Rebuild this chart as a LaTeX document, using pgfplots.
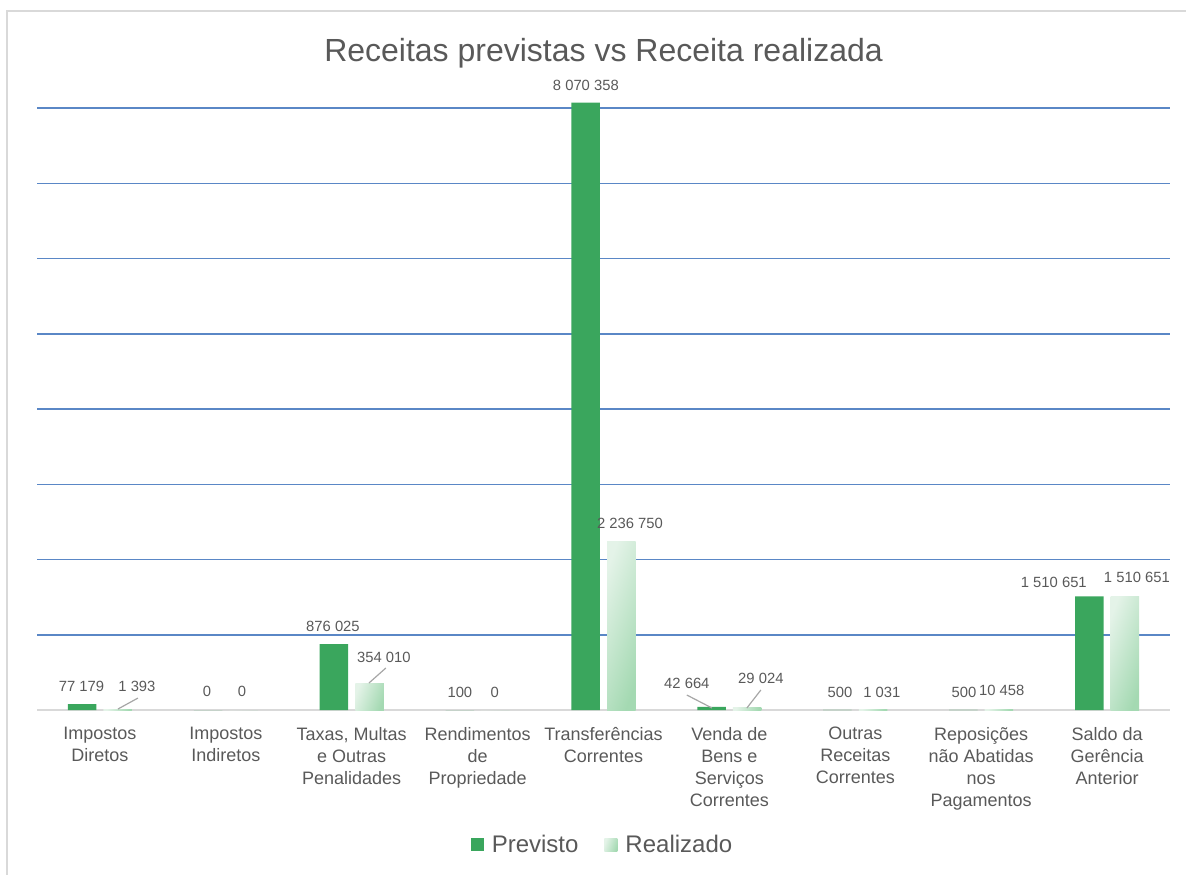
\documentclass[border=0pt]{standalone}
\usepackage{pgfplots}
\usepackage{pgfplotstable}
\pgfplotsset{compat=1.18}
\usepackage{fontspec}
\setmainfont{Liberation Sans}
\definecolor{txt}{HTML}{595959}
\definecolor{prev}{RGB}{58,166,93}
\definecolor{realL}{HTML}{E4F3E8}
\definecolor{realR}{HTML}{A4D9B2}
\definecolor{gridb}{HTML}{5A87C6}
\definecolor{frame}{HTML}{D9D9D9}

\pgfplotstableread[col sep=comma, row sep=\\]{
x,y,lab\\
-0.147,319000,77 179\\
0.294,319000,1 393\\
0.850,252000,0\\
1.128,252000,0\\
1.851,1116000,876 025\\
2.256,704000,354 010\\
2.859,239000,100\\
3.137,239000,0\\
3.860,8306000,8 070 358\\
4.210,2485000,2 236 750\\
4.662,359000,42 664\\
5.250,425000,29 024\\
5.878,239000,500\\
6.211,239000,1 031\\
6.863,239000,500\\
7.164,266000,10 458\\
7.577,1701000,1 510 651\\
8.237,1767000,1 510 651\\
}\labels

\begin{document}
\begin{tikzpicture}
\useasboundingbox (0,0) rectangle (593pt,437pt);
\draw[frame, line width=1pt] (3.5pt,-2pt) -- (3.5pt,431.5pt) -- (600pt,431.5pt);
\begin{axis}[
  at={(18.5pt,82pt)}, anchor=south west,
  scale only axis, width=566.5pt, height=301pt,
  xmin=-0.5, xmax=8.5, ymin=0, ymax=8000000,
  enlargelimits=false, clip=false,
  axis line style={draw=none},
  major tick length=0pt,
  scaled y ticks=false,
  ytick={1000000,2000000,3000000,4000000,5000000,6000000,7000000,8000000},
  yticklabels={},
  ymajorgrids,
  major grid style={gridb, line width=0.75pt},
  extra y ticks={0}, extra y tick labels={},
  extra y tick style={major grid style={frame, line width=1pt}},
  xtick={0,1,2,3,4,5,6,7,8},
  xticklabels={{Impostos\\Diretos},{Impostos\\Indiretos},{Taxas, Multas\\e Outras\\Penalidades},{Rendimentos\\de\\Propriedade},{Transferências\\Correntes},{Venda de\\Bens e\\Serviços\\Correntes},{Outras\\Receitas\\Correntes},{Reposições\\não Abatidas\\nos\\Pagamentos},{Saldo da\\Gerência\\Anterior}},
  xticklabel style={align=center, font=\fontsize{9}{11}\selectfont, text=txt, yshift=-5pt},
  title={Receitas previstas vs Receita realizada},
  title style={at={(0.5,1.0963)}, anchor=center, yshift=-7.5pt, font=\fontsize{16}{19}\selectfont, text=txt},
  legend style={at={(0.5,-0.224)}, anchor=center, draw=none, fill=none,
    legend columns=2, font=\fontsize{12}{14}\selectfont, text=txt,
    /tikz/every even column/.append style={column sep=11pt}},
  legend cell align=left,
  legend image code/.code={\path[#1] (0pt,-3.25pt) rectangle (6.5pt,3.25pt);},
  real/.style={ybar, bar width=14.25pt, bar shift=8.9pt, draw=none, left color=realL, right color=realR, shading angle=70},
]
\addplot[ybar, bar width=14.25pt, bar shift=-8.9pt, fill=prev, draw=none]
  coordinates {(0,77179) (1,0) (2,876025) (3,100) (4,8070358) (5,42664) (6,500) (7,500) (8,1510651)};
\addlegendentry{\hspace{2pt}Previsto}
\addplot[real] coordinates {(0,1393)};
\addlegendentry{\hspace{2pt}Realizado}
\addplot[real, forget plot] coordinates {(1,0)};
\addplot[real, forget plot] coordinates {(2,354010)};
\addplot[real, forget plot] coordinates {(3,0)};
\addplot[real, forget plot] coordinates {(4,2236750)};
\addplot[real, forget plot] coordinates {(5,29024)};
\addplot[real, forget plot] coordinates {(6,1031)};
\addplot[real, forget plot] coordinates {(7,10458)};
\addplot[real, forget plot] coordinates {(8,1510651)};
\addplot[forget plot, only marks, mark=none, nodes near coords, point meta=explicit symbolic,
  nodes near coords style={anchor=center, inner sep=0pt, font=\fontsize{7.4}{8}\selectfont, text=txt}]
  table[x=x, y=y, meta=lab] {\labels};
\addplot[forget plot, gray!70, line width=0.6pt] coordinates {(0.143,13000) (0.302,159000)};
\addplot[forget plot, gray!70, line width=0.6pt] coordinates {(2.137,359000) (2.271,558000)};
\addplot[forget plot, gray!70, line width=0.6pt] coordinates {(4.662,199000) (4.861,27000)};
\addplot[forget plot, gray!70, line width=0.6pt] coordinates {(5.250,266000) (5.139,27000)};
\end{axis}
\end{tikzpicture}
\end{document}
